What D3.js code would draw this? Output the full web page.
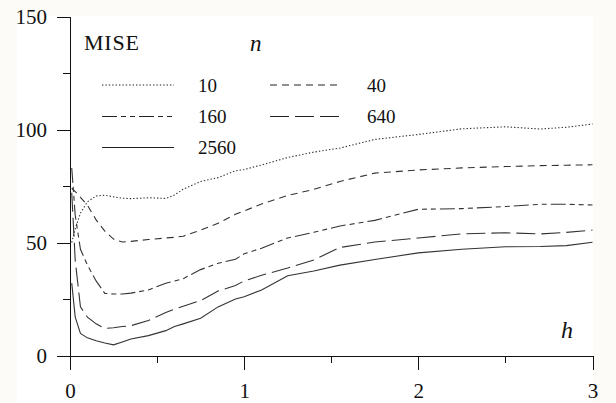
<!DOCTYPE html>
<html>
<head>
<meta charset="utf-8">
<script src="https://cdn.jsdelivr.net/npm/d3@7"></script>
<style>
  body { margin: 0; background: #fcfbf7; }
  .axis path, .axis line { stroke: #111; stroke-width: 1; shape-rendering: crispEdges; }
</style>
</head>
<body>
<div id="chart"></div>
<script>
// bandwidth grid (h) shared by all curves
var hValues = [0.01, 0.03, 0.06, 0.1, 0.15, 0.2, 0.25, 0.3, 0.35, 0.45, 0.55, 0.6, 0.65, 0.75,
               0.85, 0.95, 1.0, 1.1, 1.25, 1.4, 1.55, 1.75, 2.0, 2.25, 2.5, 2.7, 2.85, 3.0];

var mise10   = [50, 56, 63, 68, 70.6, 70.9, 70.2, 69.6, 69.4, 69.8, 69.5, 71, 73.6, 77,
                78.7, 81.7, 82.3, 84.3, 87.6, 90, 91.8, 95.6, 97.8, 100.3, 101.2, 100.2, 101, 102.4];
var mise40   = [74, 72.5, 70, 66.5, 60, 55, 51.5, 50.2, 50.5, 51.3, 52, 52.3, 52.8, 55.5,
                58.5, 62.5, 64, 67, 70.8, 73.5, 77, 80.7, 82.1, 83, 83.6, 84, 84.2, 84.4];
var mise160  = [83, 62, 47, 40, 33, 27.5, 27.2, 27.2, 27.6, 29, 32, 33, 34, 38,
                40.8, 42.6, 45, 47.5, 52, 54.5, 57.3, 59.8, 64.7, 65, 65.9, 66.9, 66.9, 66.6];
var mise640  = [72, 42, 21.5, 17, 14, 12, 12.3, 12.8, 13.2, 15.5, 19, 20.5, 21.8, 24.3,
                28.5, 31, 33, 35.5, 38.7, 42.3, 47.8, 50.2, 52, 53.8, 54.3, 53.8, 54.5, 55.5];
var mise2560 = [32, 17, 9.8, 7.8, 6.5, 5.5, 4.7, 6, 7.3, 8.8, 11, 12.8, 14, 16.5,
                21.5, 25, 26, 29, 35.3, 37.4, 40, 42.5, 45.4, 47, 48.1, 48.2, 48.6, 50.1];

var seriesNames = ["10", "40", "160", "640", "2560"];
var seriesValues = [mise10, mise40, mise160, mise640, mise2560];
var dashes = ["1.4,2", "7,5", "15,4,5,4,5,4", "19,6", null];

var xTicks = [0, 1, 2, 3];
var xMinorTicks = [0.5, 1.5, 2.5];
var yTicks = [0, 50, 100, 150];
var yMinorTicks = [25, 75, 125];

var width = 616, height = 403,
    serif = "'Liberation Serif'";

var svg = d3.select("#chart").append("svg")
    .attr("width", width)
    .attr("height", height);

// white panel; the scan has a faint tint round the edges
svg.append("rect")
    .attr("x", 17)
    .attr("y", 16)
    .attr("width", 576)
    .attr("height", height - 16)
    .attr("fill", "#fff");

var x = d3.scaleLinear().domain([0, 3]).range([70, 592.5]);
var y = d3.scaleLinear().domain([0, 150]).range([355.5, 16.5]);

// minor ticks first so the major axis draws on top
svg.append("g")
    .attr("class", "axis")
    .attr("transform", "translate(" + x(0) + ",0)")
    .call(d3.axisLeft(y).tickValues(yMinorTicks).tickSize(7).tickSizeOuter(0).tickFormat(""))
    .select(".domain").remove();

svg.append("g")
    .attr("class", "axis")
    .attr("transform", "translate(0," + y(0) + ")")
    .call(d3.axisBottom(x).tickValues(xMinorTicks).tickSize(7).tickSizeOuter(0).tickFormat(""))
    .select(".domain").remove();

var yAxis = svg.append("g")
    .attr("class", "axis")
    .attr("transform", "translate(" + x(0) + ",0)")
    .call(d3.axisLeft(y).tickValues(yTicks).tickSize(13).tickSizeOuter(0).tickFormat(d3.format("d")));

yAxis.selectAll("text")
    .attr("x", -23)
    .style("font-size", "21px");

var xAxis = svg.append("g")
    .attr("class", "axis")
    .attr("transform", "translate(0," + y(0) + ")")
    .call(d3.axisBottom(x).tickValues(xTicks).tickSize(14).tickSizeOuter(0).tickPadding(14).tickFormat(d3.format("d")));

xAxis.selectAll("text")
    .style("font-size", "21px");

// curves
var line = d3.line()
    .x(function(d, i){ return x(hValues[i]); })
    .y(function(d){ return y(d); });

svg.selectAll(".curve")
    .data(seriesValues)
  .enter().append("path")
    .attr("class", "curve")
    .attr("d", line)
    .attr("fill", "none")
    .attr("stroke", "#333")
    .attr("stroke-width", 1.1)
    .attr("stroke-dasharray", function(d, i){ return dashes[i]; });

// legend
svg.append("text")
    .attr("x", 84)
    .attr("y", 50)
    .style("font-size", "22px")
    .style("letter-spacing", "0.8px")
    .text("MISE");

svg.append("text")
    .attr("x", 250)
    .attr("y", 51)
    .style("font-size", "23px")
    .style("font-style", "italic")
    .text("n");

var legendCols = [[102, 174, 198], [270, 340, 367]];
var legendRows = [85, 116.5, 147.5];

var key = svg.selectAll(".key")
    .data(seriesNames)
  .enter().append("g")
    .attr("class", "key")
    .attr("transform", function(d, i){ return "translate(0," + legendRows[Math.floor(i / 2)] + ")"; });

key.append("line")
    .attr("x1", function(d, i){ return legendCols[i % 2][0]; })
    .attr("x2", function(d, i){ return legendCols[i % 2][1]; })
    .attr("stroke", "#222")
    .attr("stroke-width", 1.1)
    .attr("stroke-dasharray", function(d, i){ return dashes[i]; });

key.append("text")
    .attr("x", function(d, i){ return legendCols[i % 2][2]; })
    .attr("dy", "0.35em")
    .style("font-size", "19px")
    .text(function(d){ return d; });

svg.append("text")
    .attr("x", 561)
    .attr("y", 338)
    .style("font-size", "24px")
    .style("font-style", "italic")
    .text("h");

svg.selectAll("text")
    .style("font-family", serif)
    .attr("fill", "#111");
</script>
</body>
</html>
